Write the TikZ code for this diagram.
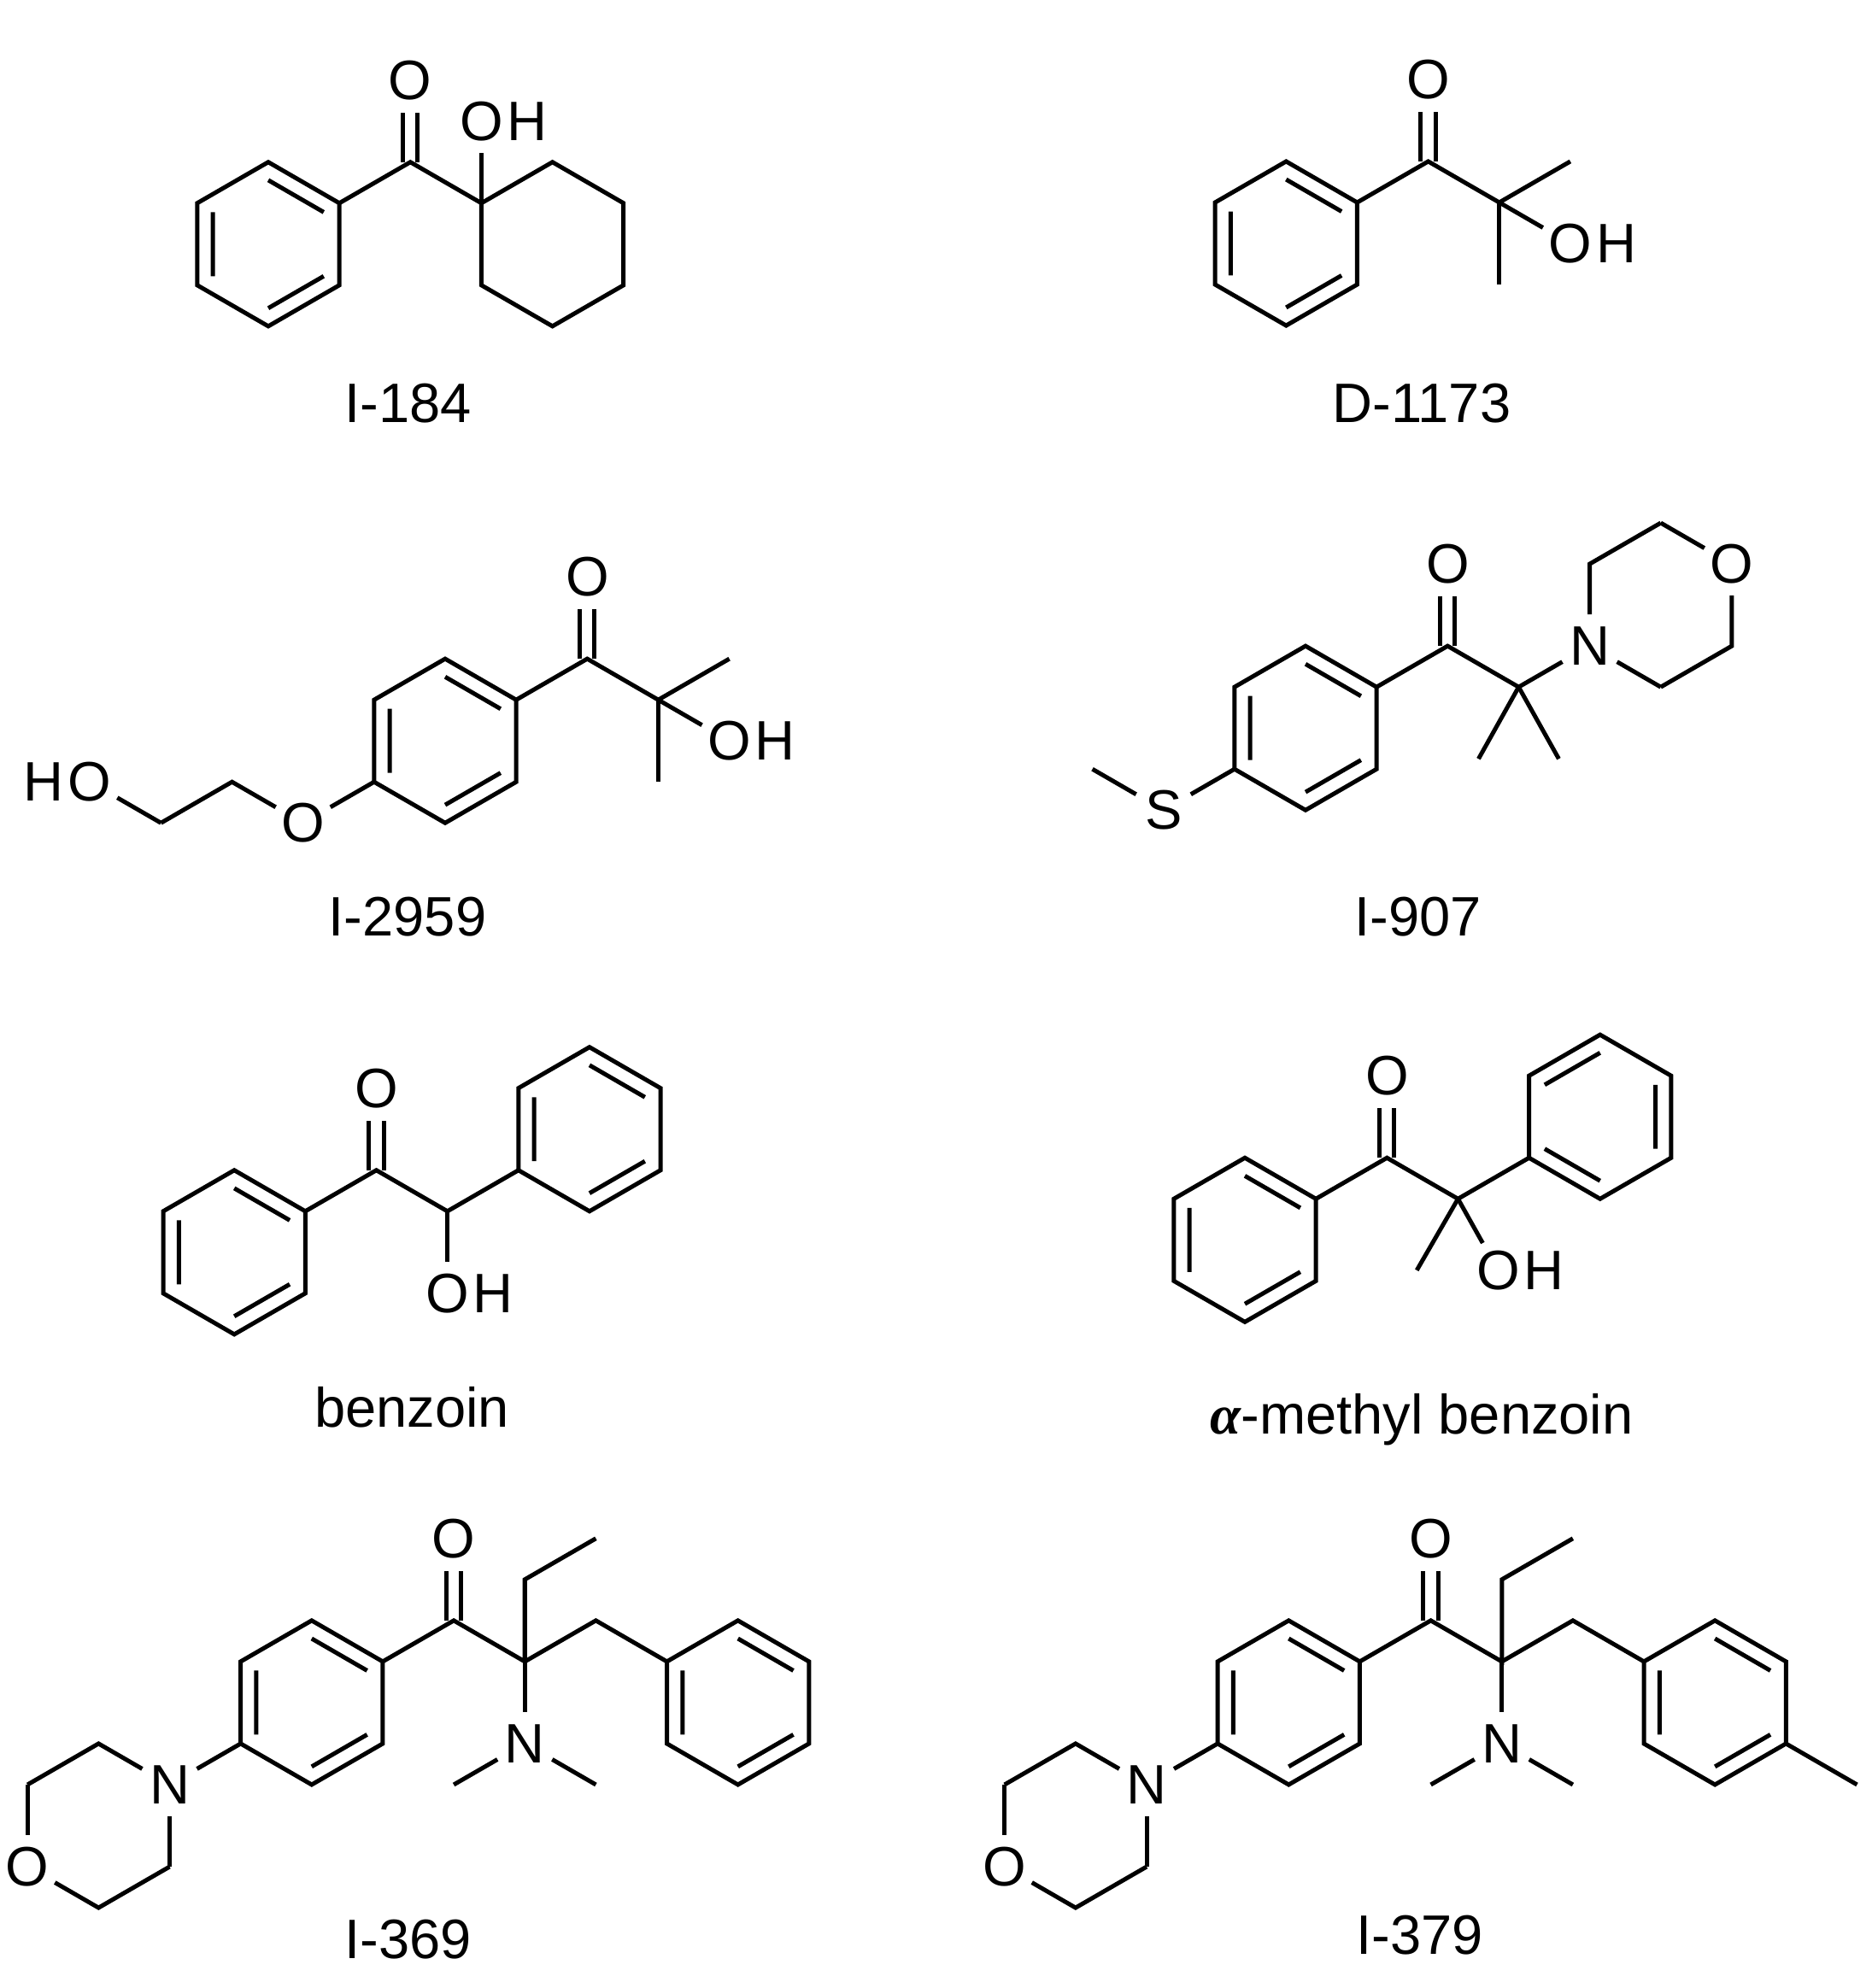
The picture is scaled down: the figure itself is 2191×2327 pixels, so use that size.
\documentclass[tikz,border=0pt]{standalone}
\usepackage{fontspec}
\setmainfont{Liberation Sans}
\newfontfamily\serifgr{Liberation Serif}
\newcommand\afont{\fontsize{18.5}{22}\selectfont}
\newcommand\hexa[2]{\draw (#1,#2-2) -- (#1+1,#2-1) -- (#1+1,#2+1) -- (#1,#2+2) -- (#1-1,#2+1) -- (#1-1,#2-1) -- cycle;}
\newcommand\kekA[2]{\draw (#1,#2-1.56) -- (#1+0.78,#2-0.78) (#1+0.78,#2+0.78) -- (#1,#2+1.56) (#1-0.78,#2+0.78) -- (#1-0.78,#2-0.78);}
\newcommand\kekB[2]{\draw (#1+0.78,#2-0.78) -- (#1+0.78,#2+0.78) (#1,#2+1.56) -- (#1-0.78,#2+0.78) (#1-0.78,#2-0.78) -- (#1,#2-1.56);}
\newcommand\carbonyl[2]{\draw (#1-0.104,#2) -- (#1-0.104,#2-1.21) (#1+0.104,#2) -- (#1+0.104,#2-1.21); \node[atom] at (#1,#2-2) {O};}
\newcommand\ohR[3]{\node[atom] (#3) at (#1,#2) {O}; \node[atom,anchor=west] at (#3.east) {H};}
\newcommand\aminoside{%
  \hexa{0}{0}\kekA{0}{0}
  \draw (1,-1) -- (2,-2) -- (3,-1) -- (3,-3) -- (4,-4);
  \draw (3,-1) -- (4,-2) -- (5,-1);
  \hexa{6}{0}\kekA{6}{0}
  \carbonyl{2}{-2}
  \draw[tb] (3,-1) -- (3,1);
  \node[atom] at (3,1) {N};
  \draw[fb] (3,1) -- (2,2);
  \draw[fb] (3,1) -- (4,2);
  \draw[tb] (-1,1) -- (-2,2);
  \node[atom] at (-2,2) {N};
  \node[atom] at (-4,4) {O};
  \draw[fb] (-2,2) -- (-3,1) -- (-4,2);
  \draw[tb] (-4,2) -- (-4,4);
  \draw[fb] (-4,4) -- (-3,5) -- (-2,4);
  \draw[tb] (-2,4) -- (-2,2);}
\begin{document}
\begin{tikzpicture}[x=0.01cm,y=-0.01cm,line width=0.05cm,line join=miter,
  atom/.style={inner sep=0pt,font=\afont},
  lbl/.style={inner sep=0pt,font=\afont},
  tb/.style={shorten >=0.37cm},
  fb/.style={shorten <=0.37cm}]
\path[use as bounding box,fill=white] (0,0) rectangle (2191,2327);

% I-184
\begin{scope}[shift={(314,285.8)},x=0.831cm,y=-0.48cm]
  \hexa{0}{0}\kekA{0}{0}
  \draw (1,-1) -- (2,-2) -- (3,-1);
  \carbonyl{2}{-2}
  \hexa{4}{0}
  \ohR{3}{-3}{oa}
  \draw[tb] (3,-1) -- (3,-3);
\end{scope}

% D-1173
\begin{scope}[shift={(1505.3,285)},x=0.831cm,y=-0.48cm]
  \hexa{0}{0}\kekA{0}{0}
  \draw (1,-1) -- (2,-2) -- (3,-1) -- (4,-2);
  \draw (3,-1) -- (3,1);
  \carbonyl{2}{-2}
  \ohR{4}{0}{ob}
  \draw[tb] (3,-1) -- (4,0);
\end{scope}

% I-2959
\begin{scope}[shift={(521,867.2)},x=0.831cm,y=-0.48cm]
  \hexa{0}{0}\kekA{0}{0}
  \draw (1,-1) -- (2,-2) -- (3,-1) -- (4,-2);
  \draw (3,-1) -- (3,1);
  \carbonyl{2}{-2}
  \ohR{4}{0}{oc}
  \draw[tb] (3,-1) -- (4,0);
  \draw[tb] (-1,1) -- (-2,2);
  \node[atom] at (-2,2) {O};
  \draw[fb] (-2,2) -- (-3,1) -- (-4,2);
  \draw[tb] (-4,2) -- (-5,1);
  \node[atom] (od) at (-5,1) {O};
  \node[atom,anchor=east] at (od.west) {H};
\end{scope}

% I-907
\begin{scope}[shift={(1528,852.2)},x=0.831cm,y=-0.48cm]
  \hexa{0}{0}\kekA{0}{0}
  \draw (1,-1) -- (2,-2) -- (3,-1);
  \carbonyl{2}{-2}
  \draw[tb] (3,-1) -- (4,-2);
  \node[atom] at (4,-2) {N};
  \node[atom] at (6,-4) {O};
  \draw[fb] (4,-2) -- (4,-4) -- (5,-5);
  \draw[tb] (5,-5) -- (6,-4);
  \draw[fb] (6,-4) -- (6,-2) -- (5,-1);
  \draw[tb] (5,-1) -- (4,-2);
  \draw (3,-1) -- (2.435,0.75);
  \draw (3,-1) -- (3.565,0.75);
  \draw[tb] (-1,1) -- (-2,2);
  \node[atom] at (-2,2) {S};
  \draw[fb] (-2,2) -- (-3,1);
\end{scope}

% benzoin
\begin{scope}[shift={(274.2,1465.8)},x=0.831cm,y=-0.48cm]
  \hexa{0}{0}\kekA{0}{0}
  \draw (1,-1) -- (2,-2) -- (3,-1) -- (4,-2);
  \carbonyl{2}{-2}
  \draw[tb] (3,-1) -- (3,1);
  \ohR{3}{1}{oe}
  \hexa{5}{-3}\kekA{5}{-3}
\end{scope}

% alpha-methyl benzoin
\begin{scope}[shift={(1457,1451.3)},x=0.831cm,y=-0.48cm]
  \hexa{0}{0}\kekA{0}{0}
  \draw (1,-1) -- (2,-2) -- (3,-1) -- (4,-2);
  \carbonyl{2}{-2}
  \draw (3,-1) -- (2.42,0.74);
  \draw[tb] (3,-1) -- (3.565,0.75);
  \ohR{3.565}{0.75}{of}
  \hexa{5}{-3}\kekB{5}{-3}
\end{scope}

% I-369
\begin{scope}[shift={(364.8,1992.9)},x=0.831cm,y=-0.48cm]
  \aminoside
\end{scope}

% I-379
\begin{scope}[shift={(1508.3,1992.9)},x=0.831cm,y=-0.48cm]
  \aminoside
  \draw (7,1) -- (8,2);
\end{scope}

\node[lbl] (l1) at (478,472) {I-184};
\node[lbl] (l2) at (1664,472) {D-1173};
\node[lbl] (l3) at (477,1073) {I-2959};
\node[lbl] (l4) at (1660,1073) {I-907};
\node[lbl] (l5) at (482,1647) {benzoin};
\node[lbl] (l6) at (1664,1662) {{\serifgr\bfseries\itshape α}-methyl benzoin};
\node[lbl] (l7) at (478,2270) {I-369};
\node[lbl] (l8) at (1662,2265) {I-379};
\end{tikzpicture}
\end{document}
